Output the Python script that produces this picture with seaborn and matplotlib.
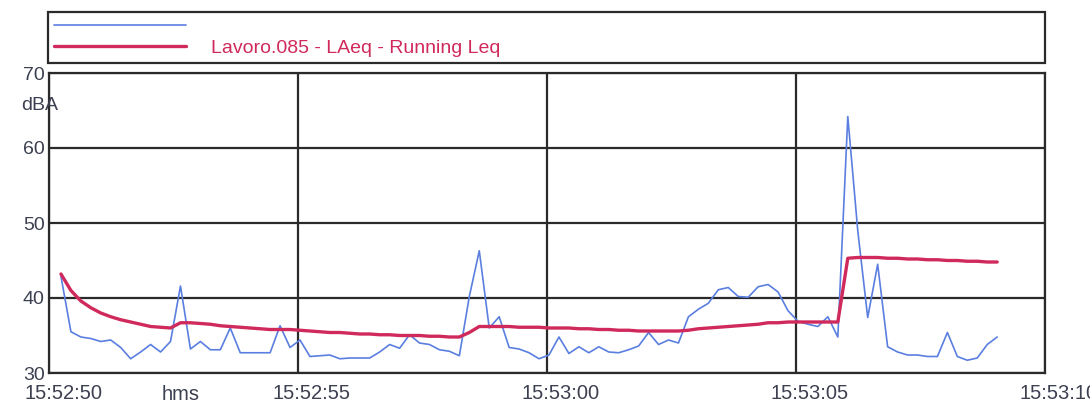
import matplotlib
matplotlib.use("Agg")
import matplotlib.pyplot as plt
import matplotlib.transforms as mtransforms
from matplotlib.ticker import MultipleLocator, FixedLocator
import seaborn as sns
import pandas as pd

# ---- data (seconds after 15:52:50) ----
time_s = [0.24, 0.44, 0.64, 0.84, 1.04, 1.24, 1.44, 1.64, 1.84, 2.04,
          2.24, 2.44, 2.64, 2.84, 3.04, 3.24, 3.44, 3.64, 3.84, 4.04,
          4.24, 4.44, 4.64, 4.84, 5.04, 5.24, 5.44, 5.64, 5.84, 6.04,
          6.24, 6.44, 6.64, 6.84, 7.04, 7.24, 7.44, 7.64, 7.84, 8.04,
          8.24, 8.44, 8.64, 8.84, 9.04, 9.24, 9.44, 9.64, 9.84, 10.04,
          10.24, 10.44, 10.64, 10.84, 11.04, 11.24, 11.44, 11.64, 11.84, 12.04,
          12.24, 12.44, 12.64, 12.84, 13.04, 13.24, 13.44, 13.64, 13.84, 14.04,
          14.24, 14.44, 14.64, 14.84, 15.04, 15.24, 15.44, 15.64, 15.84, 16.04,
          16.24, 16.44, 16.64, 16.84, 17.04, 17.24, 17.44, 17.64, 17.84, 18.04,
          18.24, 18.44, 18.64, 18.84, 19.04]

laeq_inst = [42.9, 35.5, 34.8, 34.6, 34.2, 34.4, 33.4, 31.9, 32.8, 33.8,
             32.8, 34.2, 41.6, 33.2, 34.2, 33.1, 33.1, 36.0, 32.7, 32.7,
             32.7, 32.7, 36.3, 33.4, 34.4, 32.2, 32.3, 32.4, 31.9, 32.0,
             32.0, 32.0, 32.8, 33.8, 33.3, 35.1, 34.0, 33.8, 33.1, 32.9,
             32.3, 40.2, 46.3, 36.0, 37.5, 33.4, 33.2, 32.7, 31.9, 32.4,
             34.8, 32.6, 33.5, 32.7, 33.5, 32.8, 32.7, 33.1, 33.6, 35.4,
             33.8, 34.4, 34.0, 37.5, 38.5, 39.3, 41.1, 41.4, 40.2, 40.1,
             41.5, 41.8, 40.8, 38.3, 36.9, 36.5, 36.2, 37.5, 34.8, 64.2,
             49.0, 37.4, 44.5, 33.5, 32.8, 32.4, 32.4, 32.2, 32.2, 35.4,
             32.2, 31.7, 32.0, 33.8, 34.8]

running_leq = [43.2, 41.0, 39.6, 38.7, 38.0, 37.5, 37.1, 36.8, 36.5, 36.2,
               36.1, 36.0, 36.7, 36.7, 36.6, 36.5, 36.3, 36.2, 36.1, 36.0,
               35.9, 35.8, 35.8, 35.8, 35.7, 35.6, 35.5, 35.4, 35.4, 35.3,
               35.2, 35.2, 35.1, 35.1, 35.0, 35.0, 35.0, 34.9, 34.9, 34.8,
               34.8, 35.4, 36.2, 36.2, 36.2, 36.2, 36.1, 36.1, 36.1, 36.0,
               36.0, 36.0, 35.9, 35.9, 35.8, 35.8, 35.7, 35.7, 35.6, 35.6,
               35.6, 35.6, 35.6, 35.7, 35.9, 36.0, 36.1, 36.2, 36.3, 36.4,
               36.5, 36.7, 36.7, 36.8, 36.8, 36.8, 36.8, 36.8, 36.8, 45.3,
               45.4, 45.4, 45.4, 45.3, 45.3, 45.2, 45.2, 45.1, 45.1, 45.0,
               45.0, 44.9, 44.9, 44.8, 44.8]

x_tick_pos = [0, 5, 10, 15, 20]
x_tick_labels = ["15:52:50", "15:52:55", "15:53:00", "15:53:05", "15:53:10"]
y_tick_pos = [30, 40, 50, 60, 70]
legend_label = "Lavoro.085 - LAeq - Running Leq"

df = pd.DataFrame({"t": time_s, "inst": laeq_inst, "leq": running_leq})

# ---- style ----
sns.set_style("white")
plt.rcParams["font.family"] = ["Liberation Sans", "DejaVu Sans"]

W, H = 1090, 407
fig = plt.figure(figsize=(W / 100, H / 100), dpi=100, facecolor="white")
ax_l, ax_r, ax_t, ax_b = 49, 1045, 73, 373
ax = fig.add_axes([ax_l / W, 1 - ax_b / H, (ax_r - ax_l) / W, (ax_b - ax_t) / H])

BLUE = "#5a7fe0"
RED = "#d02a5c"
TXT = "#3c4050"

sns.lineplot(data=df, x="t", y="inst", ax=ax, color=BLUE, linewidth=1.2, zorder=3)
sns.lineplot(data=df, x="t", y="leq", ax=ax, color=RED, linewidth=2.4, zorder=4)
l_blue, l_red = ax.get_lines()[0], ax.get_lines()[1]

ax.set_xlim(0, 20)
ax.set_ylim(30, 70)
ax.set_xlabel("")
ax.set_ylabel("")

ax.xaxis.set_major_locator(FixedLocator(x_tick_pos))
ax.set_xticklabels(x_tick_labels)
ax.xaxis.set_minor_locator(MultipleLocator(5 / 6))
ax.yaxis.set_major_locator(FixedLocator(y_tick_pos))
ax.set_yticklabels([str(v) for v in y_tick_pos])
ax.yaxis.set_minor_locator(MultipleLocator(2))

ax.grid(True, which="major", color="#2a2a2a", linewidth=1.6)
for sp in ax.spines.values():
    sp.set_visible(True)
    sp.set_color("#2a2a2a")
    sp.set_linewidth(1.6)

ax.tick_params(axis="x", which="major", direction="out", length=13, width=1.6,
               color="#2a2a2a", pad=-5, labelsize=14.5, labelcolor=TXT)
ax.tick_params(axis="x", which="minor", direction="out", length=7, width=1.4,
               color="#2a2a2a")
ax.tick_params(axis="y", which="major", direction="out", length=12, width=1.6,
               color="#2a2a2a", pad=-9, labelsize=14, labelcolor=TXT)
ax.tick_params(axis="y", which="minor", direction="out", length=6, width=1.4,
               color="#2a2a2a")

# shift x tick labels right so the tick falls inside the text (like the original)
offset = mtransforms.ScaledTranslation(14 / 100, 0, fig.dpi_scale_trans)
for lab in ax.get_xticklabels():
    lab.set_transform(lab.get_transform() + offset)

# axis unit labels
fig.text(21 / W, 1 - 106 / H, "dBA", fontsize=14, color=TXT, ha="left", va="center")
fig.text(162 / W, 1 - 395 / H, "hms", fontsize=14.5, color=TXT, ha="left", va="center")

# legend box across the top
leg_l, leg_r, leg_t, leg_b = 48, 1045, 11, 63
leg = ax.legend(handles=[l_blue, l_red], labels=[" ", legend_label],
                loc="lower left", mode="expand",
                bbox_to_anchor=(leg_l / W, 1 - leg_b / H, (leg_r - leg_l) / W, (leg_b - leg_t) / H),
                bbox_transform=fig.transFigure, borderaxespad=0,
                fancybox=False, framealpha=1, edgecolor="#2a2a2a",
                fontsize=14, handlelength=6.8, handletextpad=1.3,
                labelspacing=0.2, borderpad=0.3, frameon=True)
leg.get_frame().set_linewidth(1.6)
for txt in leg.get_texts():
    txt.set_color(RED)

fig.savefig("out.png", dpi=100, facecolor="white")
